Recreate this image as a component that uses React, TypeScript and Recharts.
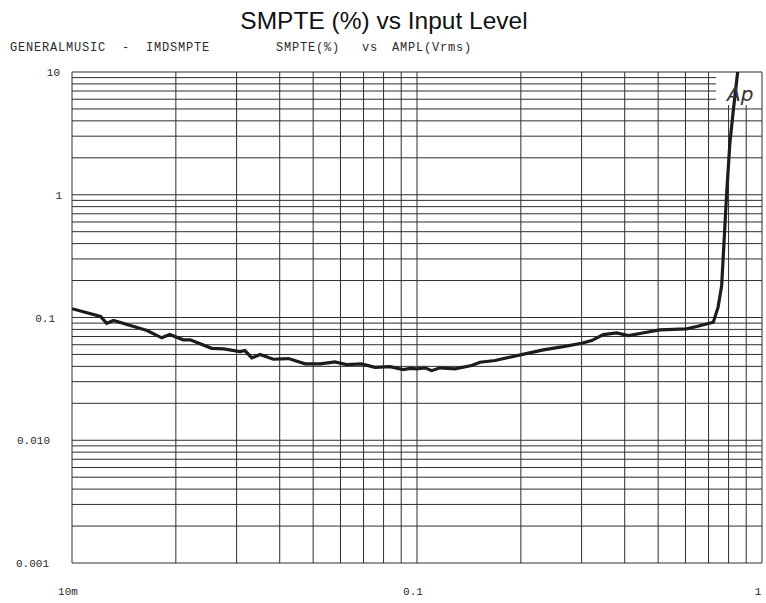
import React from 'react';
import {
  LineChart, Line, XAxis, YAxis, CartesianGrid,
} from 'recharts';

// amplitude (Vrms) and SMPTE IMD (%)
const amplVrms = [
  0.01, 0.0121, 0.0126, 0.0132, 0.0151, 0.0165, 0.0182, 0.0192, 0.021, 0.022,
  0.0254, 0.0275, 0.0307, 0.0317, 0.0332, 0.0351, 0.0383, 0.0424, 0.0474, 0.0524,
  0.0578, 0.0625, 0.0691, 0.0755, 0.0835, 0.0913, 0.0954, 0.0998, 0.1055, 0.1103,
  0.1166, 0.1288, 0.144, 0.1523, 0.1683, 0.19, 0.2056, 0.2323, 0.2655, 0.3,
  0.3209, 0.3467, 0.379, 0.41, 0.4633, 0.506, 0.605, 0.647, 0.7225, 0.746,
  0.764, 0.79, 0.807, 0.826, 0.847, 0.852,
];
const smptePct = [
  0.118, 0.102, 0.0898, 0.0946, 0.0845, 0.0783, 0.0683, 0.0726, 0.0658, 0.0658,
  0.0561, 0.0555, 0.0527, 0.0538, 0.0469, 0.0499, 0.0457, 0.0463, 0.0419, 0.0419,
  0.0435, 0.0413, 0.0419, 0.0393, 0.0398, 0.0376, 0.0385, 0.0381, 0.0389, 0.0369,
  0.0389, 0.0381, 0.0406, 0.0432, 0.0446, 0.0481, 0.0506, 0.0545, 0.0579, 0.0617,
  0.0649, 0.0726, 0.075, 0.0713, 0.0759, 0.0793, 0.0809, 0.0845, 0.0916, 0.1214,
  0.1825, 1.03, 2.63, 4.9, 9.15, 10.5,
];

// log grid: every 1..9 step of each decade
const xTicks = [
  0.01, 0.02, 0.03, 0.04, 0.05, 0.06, 0.07, 0.08, 0.09,
  0.1, 0.2, 0.3, 0.4, 0.5, 0.6, 0.7, 0.8, 0.9, 1,
];
const yTicks = [
  0.001, 0.002, 0.003, 0.004, 0.005, 0.006, 0.007, 0.008, 0.009,
  0.01, 0.02, 0.03, 0.04, 0.05, 0.06, 0.07, 0.08, 0.09,
  0.1, 0.2, 0.3, 0.4, 0.5, 0.6, 0.7, 0.8, 0.9,
  1, 2, 3, 4, 5, 6, 7, 8, 9, 10,
];
const xLabels: Record<string, string> = { '0.01': '10m', '0.1': '0.1', '1': '1' };
const yLabels: Record<string, string> = {
  '0.001': '0.001', '0.01': '0.010', '0.1': '0.1', '1': '1', '10': '10',
};

const data = amplVrms.map((x, i) => ({ x, y: smptePct[i] }));

const MONO = '"Liberation Mono", "DejaVu Sans Mono", monospace';
const INK = '#2a2a2a';
const GRID = '#2e2e2e';

// plot frame (px) and the blank corner where the "Ap" logo sits
const PLOT = { left: 72, top: 72, right: 762, bottom: 563 };
const LOGO = { left: 716, bottom: 105 };
// the scanned y labels are not quite aligned, right edges differ a bit
const yLabelRight: Record<string, number> = { '10': 60, '1': 62, '0.1': 55, '0.010': 50, '0.001': 49 };

const XTick = ({ x, y, payload }: any) => {
  const t = xLabels[String(payload.value)];
  if (!t) return null;
  return (
    <text x={x - 4} y={y + 24} textAnchor="middle" fontFamily={MONO} fontSize={11} fill={INK}>{t}</text>
  );
};

const YTick = ({ y, payload }: any) => {
  const t = yLabels[String(payload.value)];
  if (!t) return null;
  return (
    <text x={yLabelRight[t] ?? 56} y={y + 4} textAnchor="end" fontFamily={MONO} fontSize={11} fill={INK}>{t}</text>
  );
};

const HLine = (p: any) => {
  const inLogo = p.y1 > PLOT.top + 1 && p.y1 < LOGO.bottom;
  return <line key={p.key} x1={p.x1} y1={p.y1} x2={inLogo ? LOGO.left : p.x2} y2={p.y2} stroke={GRID} strokeWidth={1} />;
};

const VLine = (p: any) => {
  const inLogo = p.x1 > LOGO.left && p.x1 < PLOT.right - 1;
  return <line key={p.key} x1={p.x1} y1={inLogo ? LOGO.bottom : p.y1} x2={p.x2} y2={p.y2} stroke={GRID} strokeWidth={1} />;
};

export default function App() {
  return (
    <div style={{ position: 'absolute', left: 0, top: 0, width: 766, height: 603, background: '#fff' }}>
      <LineChart width={766} height={603} data={data}
        margin={{ top: PLOT.top, right: 766 - PLOT.right, left: PLOT.left - 60, bottom: 603 - PLOT.bottom - 30 }}>
        <CartesianGrid horizontal={HLine} vertical={VLine} />
        <XAxis dataKey="x" type="number" scale="log" domain={[0.01, 1]} ticks={xTicks}
          allowDataOverflow axisLine={false} tickLine={false} tick={<XTick />} height={30} interval={0} />
        <YAxis type="number" scale="log" domain={[0.001, 10]} ticks={yTicks}
          allowDataOverflow axisLine={false} tickLine={false} tick={<YTick />} width={60} interval={0} />
        <Line type="linear" dataKey="y" stroke="#1c1c1c" strokeWidth={3.2} dot={false}
          isAnimationActive={false} />
      </LineChart>
      <svg width={766} height={603} style={{ position: 'absolute', left: 0, top: 0, pointerEvents: 'none' }}>
        <text x={384} y={29} textAnchor="middle" fontFamily='"Liberation Sans", Arial, sans-serif'
          fontSize={24.5} fill="#111">SMPTE (%) vs Input Level</text>
        <g fontFamily={MONO} fontSize={12} letterSpacing={0.8} fill={INK}>
          <text x={10} y={51}>GENERALMUSIC</text>
          <text x={122} y={51}>-</text>
          <text x={146} y={51}>IMDSMPTE</text>
          <text x={276} y={51}>SMPTE(%)</text>
          <text x={362} y={51}>vs</text>
          <text x={392} y={51}>AMPL(Vrms)</text>
        </g>
        <text x={727} y={101} fontFamily='"DejaVu Sans", sans-serif' fontStyle="italic"
          fontSize={20} fill="#333">Ap</text>
      </svg>
    </div>
  );
}
